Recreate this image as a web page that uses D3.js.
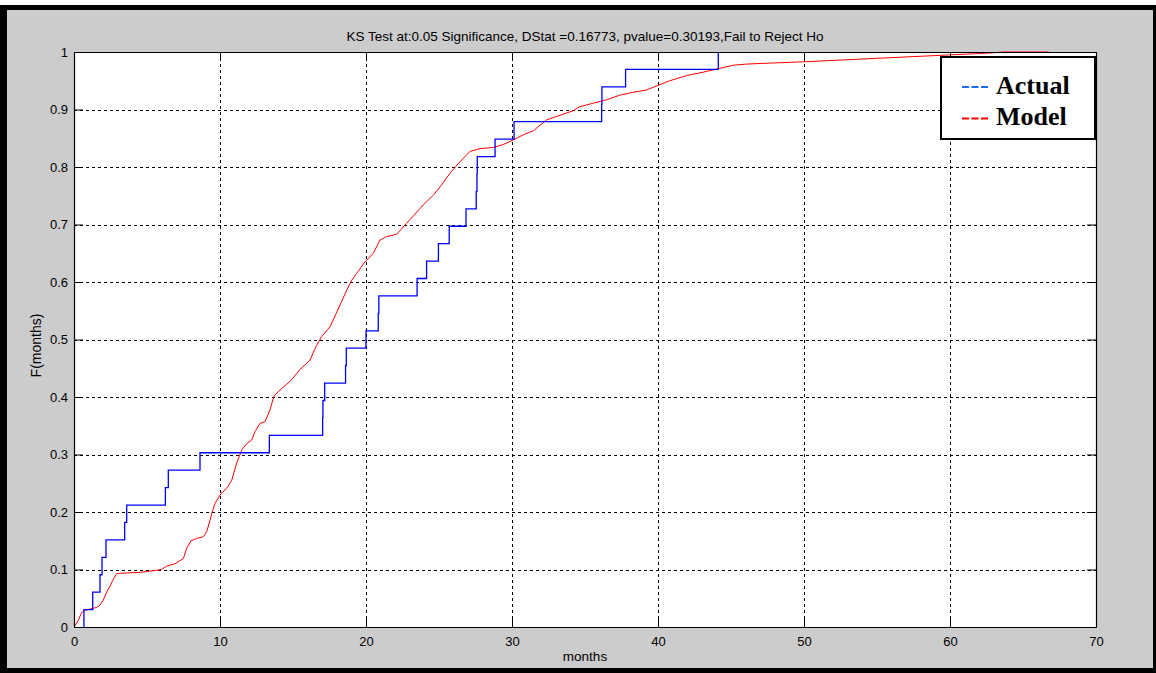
<!DOCTYPE html>
<html>
<head>
<meta charset="utf-8">
<script src="https://cdn.jsdelivr.net/npm/d3@7"></script>
<style>
  html, body { margin: 0; padding: 0; background: #ffffff; }
  svg { display: block; }
</style>
</head>
<body>
<div id="chart"></div>
<script>
// Empirical sample (months), sorted; each observation adds 1/n to the CDF
const actualMonths = [0.68, 1.28, 1.78, 1.92, 2.19, 3.47, 3.61, 6.26, 6.46, 8.63,
  13.38, 17.03, 17.05, 17.17, 18.6, 18.65, 20.0, 20.84, 20.88, 23.5,
  24.15, 24.96, 25.7, 26.85, 27.55, 27.6, 27.62, 28.84, 30.14, 36.14,
  36.16, 37.78, 44.13];

// Fitted model CDF
const modelMonths = [0, 0.30, 0.52, 0.75, 1.21, 1.55, 1.78, 2.01, 2.24, 2.47, 2.65, 2.92,
  3.61, 4.52, 5.43, 6.0, 6.35, 6.92, 7.49, 7.72, 8.01, 8.4, 8.86, 9.09, 9.32, 9.5,
  9.66, 10.07, 10.46, 10.8, 11.14, 11.49, 11.83, 12.17, 12.4, 12.74, 13.08, 13.42,
  13.70, 14.11, 14.91, 15.48, 16.16, 16.62, 16.96, 17.53, 17.95, 18.33, 18.68,
  19.02, 19.36, 19.93, 20.5, 20.96, 21.42, 22.1, 22.78, 23.92, 24.61, 25.18,
  25.75, 26.32, 27.12, 27.81, 28.7, 29.4, 30.09, 30.77, 31.46, 32.37, 33.29,
  34.2, 34.66, 35.57, 36.48, 37.4, 38.3, 39.22, 39.9, 40.8, 41.96, 43.1, 44.13,
  45.16, 46.07, 46.99, 50.0, 55.0, 60.0, 62.6, 63.7, 66.75];
const modelCdf = [0, 0.012, 0.025, 0.029, 0.032, 0.034, 0.038, 0.047, 0.061, 0.071, 0.081, 0.093,
  0.094, 0.095, 0.098, 0.100, 0.106, 0.110, 0.119, 0.137, 0.150, 0.154, 0.157, 0.166, 0.186, 0.203,
  0.215, 0.232, 0.241, 0.255, 0.285, 0.308, 0.319, 0.325, 0.340, 0.354, 0.357, 0.377,
  0.402, 0.412, 0.430, 0.448, 0.464, 0.490, 0.505, 0.522, 0.545, 0.566, 0.586,
  0.603, 0.615, 0.635, 0.650, 0.673, 0.679, 0.683, 0.702, 0.734, 0.751, 0.769,
  0.789, 0.806, 0.827, 0.832, 0.834, 0.839, 0.847, 0.856, 0.863, 0.882, 0.890,
  0.898, 0.905, 0.911, 0.917, 0.925, 0.930, 0.934, 0.941, 0.950, 0.959, 0.965, 0.971,
  0.977, 0.979, 0.980, 0.983, 0.989, 0.995, 0.998, 1.0, 1.0];

const xTicks = [0, 10, 20, 30, 40, 50, 60, 70];
const yTicks = [0, 0.1, 0.2, 0.3, 0.4, 0.5, 0.6, 0.7, 0.8, 0.9, 1];
const legendLabels = ["Actual", "Model"];
const legendColors = ["#1a6cff", "#ff0000"];
const titleText = "KS Test at:0.05 Significance, DStat =0.16773, pvalue=0.30193,Fail to Reject Ho";

const W = 1156, H = 673;
const plot = { left: 74, top: 52, right: 1096, bottom: 627 };
const SANS = "\"Liberation Sans\", Arial, sans-serif";
const SERIF = "\"Liberation Serif\", \"Times New Roman\", serif";

const svg = d3.select("#chart").append("svg")
  .attr("width", W).attr("height", H);

// Figure frame and background
svg.append("rect").attr("x", 0).attr("y", 5).attr("width", W).attr("height", H - 5)
  .attr("fill", "#000");
svg.append("rect").attr("x", 7).attr("y", 10).attr("width", 1146).attr("height", 658)
  .attr("fill", "#cccccc");

const x = d3.scaleLinear().domain([0, 70]).range([plot.left, plot.right]);
const y = d3.scaleLinear().domain([0, 1]).range([plot.bottom, plot.top]);

// Axes background
svg.append("rect")
  .attr("x", plot.left).attr("y", plot.top)
  .attr("width", plot.right - plot.left).attr("height", plot.bottom - plot.top)
  .attr("fill", "#fff");

// Dotted grid
const grid = svg.append("g").attr("stroke", "#000").attr("stroke-width", 1)
  .attr("stroke-dasharray", "3,3").attr("shape-rendering", "crispEdges");
grid.selectAll("line.v").data(xTicks.slice(1, -1)).join("line")
  .attr("x1", d => Math.round(x(d)) + 0.5).attr("x2", d => Math.round(x(d)) + 0.5)
  .attr("y1", plot.top).attr("y2", plot.bottom);
grid.selectAll("line.h").data(yTicks.slice(1, -1)).join("line")
  .attr("y1", d => Math.round(y(d)) + 0.5).attr("y2", d => Math.round(y(d)) + 0.5)
  .attr("x1", plot.left).attr("x2", plot.right);

// Data lines
svg.append("clipPath").attr("id", "plotClip").append("rect")
  .attr("x", plot.left).attr("y", plot.top - 1)
  .attr("width", plot.right - plot.left).attr("height", plot.bottom - plot.top + 1);

const n = actualMonths.length;
const stepPts = [[actualMonths[0], 0]].concat(actualMonths.map((m, i) => [m, (i + 1) / n]));
const stairs = d3.line().x(d => x(d[0])).y(d => y(d[1])).curve(d3.curveStepAfter);
const modelLine = d3.line().x(d => x(d[0])).y(d => y(d[1]));

const lines = svg.append("g").attr("clip-path", "url(#plotClip)");
lines.append("path")
  .attr("d", modelLine(modelMonths.map((m, i) => [m, modelCdf[i]])))
  .attr("fill", "none").attr("stroke", "#ff0000").attr("stroke-width", 1);
lines.append("path")
  .attr("d", stairs(stepPts))
  .attr("fill", "none").attr("stroke", "#0000ff").attr("stroke-width", 1.3);

// Axes with inward ticks on all four sides
const yFmt = d => String(+d.toFixed(1));
const axStyle = g => {
  g.select(".domain").attr("stroke", "#000").attr("stroke-width", 1.2);
  g.selectAll(".tick line").attr("stroke", "#000");
  g.selectAll("text").style("font-size", "13px").style("font-family", SANS).attr("fill", "#000");
};
svg.append("g").attr("transform", `translate(0,${plot.bottom})`)
  .call(d3.axisBottom(x).tickValues(xTicks).tickSizeInner(-9).tickSizeOuter(0).tickPadding(10))
  .call(axStyle);
svg.append("g").attr("transform", `translate(0,${plot.top})`)
  .call(d3.axisTop(x).tickValues(xTicks).tickSizeInner(-9).tickSizeOuter(0).tickFormat(""))
  .call(axStyle);
svg.append("g").attr("transform", `translate(${plot.left},0)`)
  .call(d3.axisLeft(y).tickValues(yTicks).tickSizeInner(-9).tickSizeOuter(0).tickPadding(6).tickFormat(yFmt))
  .call(axStyle);
svg.append("g").attr("transform", `translate(${plot.right},0)`)
  .call(d3.axisRight(y).tickValues(yTicks).tickSizeInner(-9).tickSizeOuter(0).tickFormat(""))
  .call(axStyle);

// Title and axis labels
svg.append("text").attr("x", (plot.left + plot.right) / 2).attr("y", 41)
  .attr("text-anchor", "middle").style("font-size", "13.5px").style("font-family", SANS)
  .attr("fill", "#000").text(titleText);
svg.append("text").attr("x", (plot.left + plot.right) / 2).attr("y", 661)
  .attr("text-anchor", "middle").style("font-size", "13.5px").style("font-family", SANS)
  .attr("fill", "#000").text("months");
svg.append("text").attr("transform", `translate(41,${(plot.top + plot.bottom) / 2 + 6}) rotate(-90)`)
  .attr("text-anchor", "middle").style("font-size", "14px").style("font-family", SANS)
  .attr("fill", "#000").text("F(months)");

// Legend
const legend = svg.append("g");
legend.append("rect").attr("x", 941).attr("y", 57).attr("width", 154).attr("height", 82)
  .attr("fill", "#fff").attr("stroke", "#000").attr("stroke-width", 2);
legendLabels.forEach((label, i) => {
  const cy = 87 + i * 31.5;
  legend.append("line").attr("x1", 962).attr("x2", 988).attr("y1", cy).attr("y2", cy)
    .attr("stroke", legendColors[i]).attr("stroke-width", 2).attr("stroke-dasharray", "7,2.5");
  legend.append("text").attr("x", 996).attr("y", cy + 6.5)
    .style("font-family", SERIF).style("font-weight", "bold").style("font-size", "26px")
    .attr("fill", "#000").text(label);
});
</script>
</body>
</html>
